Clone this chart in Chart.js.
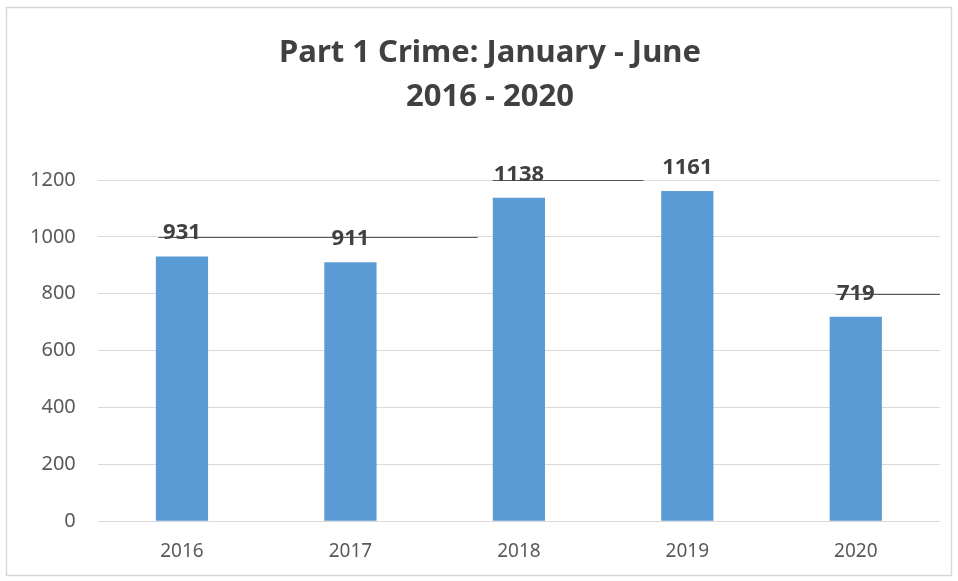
<!DOCTYPE html>
<html>
<head>
<meta charset="utf-8">
<script src="https://cdn.jsdelivr.net/npm/chart.js@4"></script>
<style>
  html, body { margin: 0; padding: 0; background: #fff; }
  #wrap { width: 958px; height: 581px; }
</style>
</head>
<body>
<div id="wrap"><canvas id="crimeChart" width="958" height="581"></canvas></div>
<script>
const years = ["2016", "2017", "2018", "2019", "2020"];
const crimeCounts = [931, 911, 1138, 1161, 719];
const titleLines = ["Part 1 Crime: January - June", "2016 - 2020"];
const yTicks = [0, 200, 400, 600, 800, 1000, 1200];

// darker rule segments across the grid: [y value, from category, to category]
const ruleSegments = [
  [1000, -0.14, 1.755],
  [1200, 1.845, 2.74],
  [800, 3.88, 4.5]
];

const textGray = "#595959";

/* frame around the whole chart */
const framePlugin = {
  id: "frame",
  beforeDraw(chart) {
    const c = chart.ctx;
    c.save();
    c.fillStyle = "#fff";
    c.fillRect(0, 0, chart.width, chart.height);
    c.strokeStyle = "#d9d9d9";
    c.lineWidth = 1.5;
    c.strokeRect(6.5, 7.5, chart.width - 13, chart.height - 13);
    c.restore();
  }
};

/* two-line heading, centred a little right of the canvas middle */
const headingPlugin = {
  id: "heading",
  afterDraw(chart) {
    const c = chart.ctx;
    c.save();
    c.font = "bold 31px 'Noto Sans', sans-serif";
    c.fillStyle = "#404040";
    c.textAlign = "center";
    c.textBaseline = "middle";
    titleLines.forEach((line, i) => c.fillText(line, 490, 53 + i * 44));
    c.restore();
  }
};

/* rule segments drawn in scale units */
const rulePlugin = {
  id: "rules",
  beforeDatasetsDraw(chart) {
    const { ctx, scales: { x, y } } = chart;
    ctx.save();
    ctx.strokeStyle = "#555";
    ctx.lineWidth = 1.2;
    ruleSegments.forEach(([v, a, b]) => {
      const py = Math.round(y.getPixelForValue(v)) + 0.5;
      const step = x.getPixelForValue(1) - x.getPixelForValue(0);
      const x0 = x.getPixelForValue(0) + a * step;
      const x1 = x.getPixelForValue(0) + b * step;
      ctx.beginPath();
      ctx.moveTo(x0, py);
      ctx.lineTo(x1, py);
      ctx.stroke();
    });
    ctx.restore();
  }
};

/* value labels above each bar */
const valueLabels = {
  id: "valueLabels",
  afterDatasetsDraw(chart) {
    const { ctx } = chart;
    const meta = chart.getDatasetMeta(0);
    ctx.save();
    ctx.font = "bold 22px 'Noto Sans', sans-serif";
    ctx.fillStyle = "#404040";
    ctx.textAlign = "center";
    ctx.textBaseline = "alphabetic";
    meta.data.forEach((bar, i) => {
      ctx.fillText(String(crimeCounts[i]), bar.x, bar.y - 17);
    });
    ctx.restore();
  }
};

new Chart(document.getElementById("crimeChart"), {
  type: "bar",
  data: {
    labels: years,
    datasets: [{
      data: crimeCounts,
      backgroundColor: "#5b9bd5",
      barPercentage: 0.31,
      categoryPercentage: 1
    }]
  },
  options: {
    responsive: false,
    animation: false,
    layout: { padding: { left: 8, right: 18, top: 180, bottom: 7 } },
    plugins: {
      legend: { display: false },
      tooltip: { enabled: false },
      title: { display: false }
    },
    scales: {
      x: {
        grid: { display: false },
        border: { display: false },
        ticks: {
          color: textGray,
          padding: 11,
          font: { family: "'Noto Sans', sans-serif", size: 19 }
        }
      },
      y: {
        min: 0,
        max: 1200,
        afterBuildTicks(axis) {
          axis.ticks = yTicks.map(v => ({ value: v }));
        },
        grid: { color: "#d9d9d9", lineWidth: 1, drawTicks: false },
        border: { display: false },
        ticks: {
          color: textGray,
          padding: 22,
          font: { family: "'Noto Sans', sans-serif", size: 20 },
          callback: v => String(v)
        }
      }
    }
  },
  plugins: [framePlugin, rulePlugin, valueLabels, headingPlugin]
});
</script>
</body>
</html>
